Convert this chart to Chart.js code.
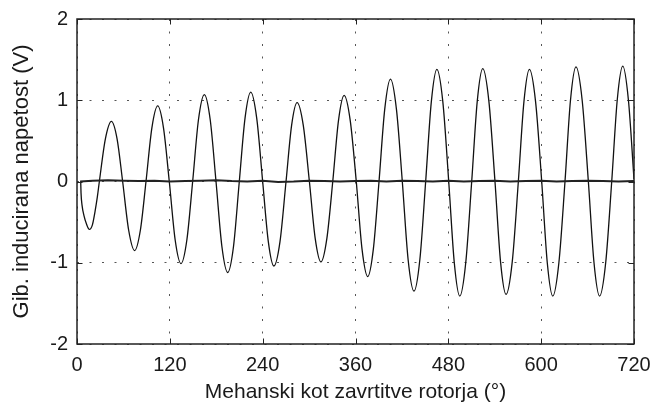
<!DOCTYPE html>
<html>
<head>
<meta charset="utf-8">
<title>Gib. inducirana napetost</title>
<script src="https://cdn.jsdelivr.net/npm/chart.js@4.4.1/dist/chart.umd.min.js"></script>
<style>
   body { margin: 0; background: #fff; }
   #wrap { width: 653px; height: 403px; }
</style>
</head>
<body>
<div id="wrap"><canvas id="napetost" width="653" height="403"></canvas></div>
<script>
// measured induced voltage over two mechanical turns (deg, V)
let waveAngle = [
   4.8, 5.2, 6.5, 9, 12.5, 16, 20, 23.3, 26.3, 28.9,
   36.7, 44.5, 51.8, 59, 66.8, 74.5, 81.9, 89.2,
   96.8, 104.3, 111.8, 119.3, 126.9, 134.4, 142, 149.5,
   157, 164.6, 172.2, 179.7, 187.3, 194.8, 202.3, 209.8,
   217.2, 224.6, 232.3, 240, 247.3, 254.5, 262.4, 270.2,
   277.4, 284.5, 292.5, 300.4, 307.9, 315.3, 323, 330.6,
   338, 345.3, 353.2, 361, 368.4, 375.8, 383.1, 390.4,
   397.8, 405.2, 412.9, 420.5, 428, 435.6, 443.2, 450.7,
   458, 465.2, 472.9, 480.5, 487.7, 494.8, 502.5, 510.2,
   517.4, 524.5, 532.4, 540.3, 547.5, 554.6, 562.6, 570.5,
   577.7, 584.8, 592.8, 600.7, 607.9, 615, 622.9, 630.8,
   637.9, 645, 653, 661, 668.3, 675.5, 683.4, 691.2,
   698.4, 705.5, 712.8, 720,
];
let waveVolt = [
   0, -0.14, -0.29, -0.42, -0.53, -0.59, -0.53, -0.37, -0.19, 0,
   0.525, 0.74, 0.525, 0, -0.6, -0.85, -0.6, 0,
   0.66, 0.93, 0.66, 0, -0.72, -1.01, -0.72, 0,
   0.76, 1.07, 0.76, 0, -0.8, -1.12, -0.8, 0,
   0.78, 1.1, 0.78, 0, -0.74, -1.04, -0.74, 0,
   0.69, 0.97, 0.69, 0, -0.7, -0.99, -0.7, 0,
   0.75, 1.06, 0.75, 0, -0.83, -1.17, -0.83, 0,
   0.89, 1.26, 0.89, 0, -0.96, -1.35, -0.96, 0,
   0.98, 1.38, 0.98, 0, -1.0, -1.41, -1.0, 0,
   0.99, 1.39, 0.99, 0, -0.99, -1.39, -0.99, 0,
   0.98, 1.38, 0.98, 0, -1.0, -1.41, -1.0, 0,
   1.0, 1.41, 1.0, 0, -1.0, -1.41, -1.0, 0,
   1.01, 1.42, 1.0, 0.03,
];

// second trace, stays near zero
let zeroAngle = [
   4, 20, 40, 60, 80, 100, 120, 140, 160, 180, 200, 220, 240,
   260, 280, 300, 320, 340, 360, 380, 400, 420, 440, 460, 480,
   500, 520, 540, 560, 580, 600, 620, 640, 660, 680, 700, 720,
];
let zeroVolt = [
   0, 0.01, 0.015, 0.01, 0.005, 0.01, 0, 0.005, 0.01, 0.015, 0.005, 0, 0.01,
   -0.005, 0, 0.01, 0.005, 0, 0.005, 0.01, 0, 0.01, 0.005, 0, 0.01,
   0, 0.005, 0.01, 0, 0.005, 0.01, 0, 0.005, 0.01, 0.005, 0, 0.005,
];

let xTicks = [0, 120, 240, 360, 480, 600, 720];
let yTicks = [-2, -1, 0, 1, 2];

let toPoints = (xs, ys) => xs.map((x, i) => ({ x: x, y: ys[i] }));

Chart.defaults.font.family = "'Liberation Sans', Arial, Helvetica, sans-serif";
Chart.defaults.color = "#1a1a1a";

// box round the plot with short ticks pointing inwards
let boxFrame = {
   id: "boxFrame",
   afterDatasetsDraw(chart) {
      let { ctx, chartArea: a, scales } = chart;
      ctx.save();
      ctx.strokeStyle = "#222";
      ctx.lineWidth = 1;
      xTicks.forEach((v) => {
         let px = Math.round(scales.x.getPixelForValue(v)) + 0.5;
         ctx.beginPath();
         ctx.moveTo(px, a.bottom);
         ctx.lineTo(px, a.bottom - 5.5);
         ctx.moveTo(px, a.top);
         ctx.lineTo(px, a.top + 5.5);
         ctx.stroke();
      });
      yTicks.forEach((v) => {
         let py = Math.round(scales.y.getPixelForValue(v)) + 0.5;
         ctx.beginPath();
         ctx.moveTo(a.left, py);
         ctx.lineTo(a.left + 5.5, py);
         ctx.moveTo(a.right, py);
         ctx.lineTo(a.right - 5.5, py);
         ctx.stroke();
      });
      ctx.lineWidth = 1.5;
      ctx.strokeRect(a.left, a.top, a.right - a.left, a.bottom - a.top);
      ctx.restore();
   },
};

new Chart("napetost", {
   type: "line",
   data: {
      datasets: [
         {
            data: toPoints(zeroAngle, zeroVolt),
            borderColor: "#222",
            borderWidth: 2,
            pointRadius: 0,
            tension: 0,
         },
         {
            data: toPoints(waveAngle, waveVolt),
            borderColor: "#111",
            borderWidth: 1.3,
            pointRadius: 0,
            cubicInterpolationMode: "monotone",
         },
      ],
   },
   options: {
      responsive: false,
      animation: false,
      layout: { padding: { top: 19, right: 19, bottom: 0, left: 0 } },
      plugins: {
         legend: { display: false },
         tooltip: { enabled: false },
      },
      scales: {
         x: {
            type: "linear",
            min: 0,
            max: 720,
            afterBuildTicks: (scale) => {
               scale.ticks = xTicks.map((v) => ({ value: v }));
            },
            afterFit: (scale) => {
               scale.height = 59;
               scale.paddingLeft = 0;
               scale.paddingRight = 0;
            },
            ticks: { padding: 9, font: { size: 20 }, maxRotation: 0 },
            grid: { color: "#555", lineWidth: 1, drawTicks: false },
            border: { display: false, dash: [2, 10.5] },
            title: {
               display: true,
               text: "Mehanski kot zavrtitve rotorja (°)",
               font: { size: 21, lineHeight: 1 },
               padding: 0,
            },
         },
         y: {
            min: -2,
            max: 2,
            afterBuildTicks: (scale) => {
               scale.ticks = yTicks.map((v) => ({ value: v }));
            },
            afterFit: (scale) => {
               scale.width = 77;
               scale.paddingTop = 0;
               scale.paddingBottom = 0;
            },
            ticks: { padding: 9, font: { size: 20 } },
            grid: { color: "#555", lineWidth: 1, drawTicks: false },
            border: { display: false, dash: [2, 10.5] },
            title: {
               display: true,
               text: "Gib. inducirana napetost (V)",
               font: { size: 22 },
               padding: { top: 9, bottom: 0 },
            },
         },
      },
   },
   plugins: [boxFrame],
});
</script>
</body>
</html>
